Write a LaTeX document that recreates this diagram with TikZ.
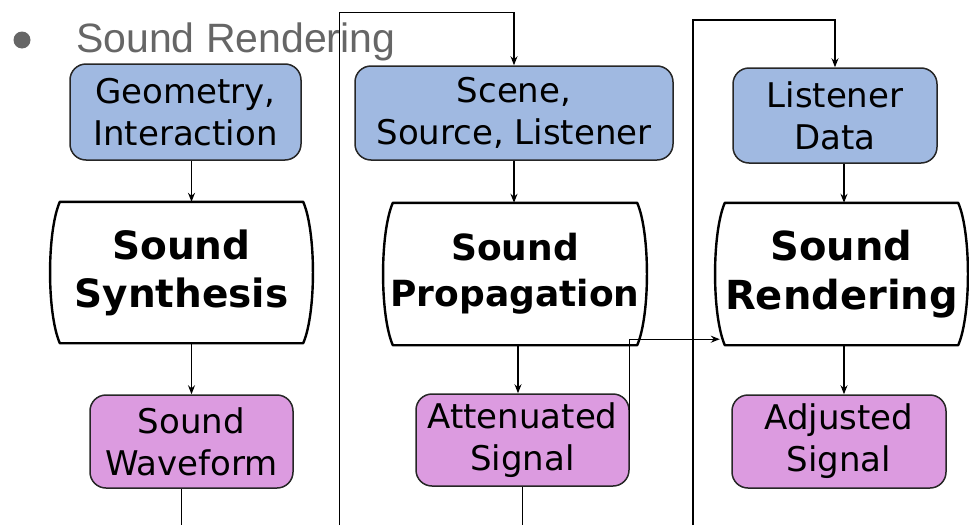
\documentclass[tikz,border=0pt]{standalone}
\usepackage{fontspec}
\setmainfont{DejaVu Sans}
\newfontfamily\titlefont{Liberation Sans}
\usetikzlibrary{arrows.meta,calc}
\definecolor{boxblue}{RGB}{160,185,225}
\definecolor{boxpurple}{RGB}{220,155,224}
\definecolor{titlegray}{RGB}{102,102,102}
\newcommand\procshape[1]{%
  \draw[procline] ($(#1.north west)+(10,0)$) -- ($(#1.north east)+(-10,0)$)
    .. controls ($(#1.north east)+(3,30)$) and ($(#1.south east)+(3,-30)$) .. ($(#1.south east)+(-10,0)$)
    -- ($(#1.south west)+(10,0)$)
    .. controls ($(#1.south west)+(-3,-30)$) and ($(#1.north west)+(-3,30)$) .. cycle;}
\begin{document}
\begin{tikzpicture}[x=1pt,y=-1pt,
  conn/.style={line width=1.3pt,draw=black},
  arr/.style={conn,-{Stealth[length=9pt,width=7pt,inset=3pt]}},
  databox/.style={draw=black!85,line width=1.5pt,rounded corners=16pt,align=center,inner sep=0pt,font=\fontsize{34}{42}\selectfont},
  inbox/.style={databox,fill=boxblue},
  outbox/.style={databox,fill=boxpurple},
  procbox/.style={align=center,inner sep=0pt},
  procline/.style={line width=2.4pt,draw=black,line join=round}
]
\useasboundingbox (0,0) rectangle (969,525);

% title
\node[circle,fill=titlegray,minimum size=17pt,inner sep=0pt] (bullet) at (22,40) {};
\node[anchor=base west,inner sep=0pt,text=titlegray,font=\titlefont\fontsize{41}{48}\selectfont] (title) at (76,52) {Sound Rendering};

% input boxes
\node[inbox,minimum width=231pt,minimum height=96pt] (geo) at (185.5,112) {Geometry,\\Interaction};
\node[inbox,minimum width=318pt,minimum height=94pt] (scene) at (514,113) {Scene,\\Source, Listener};
\node[inbox,minimum width=204pt,minimum height=95pt] (lis) at (835,115.5) {Listener\\Data};

% process boxes
\node[procbox,minimum width=263pt,minimum height=141pt,font=\bfseries\fontsize{39}{48}\selectfont] (syn) at (181.5,272.5) {Sound\\Synthesis};
\node[procbox,minimum width=264pt,minimum height=142pt,font=\bfseries\fontsize{36}{46}\selectfont] (prop) at (515,274) {Sound\\Propagation};
\node[procbox,minimum width=253pt,minimum height=142pt,font=\bfseries\fontsize{40}{49}\selectfont] (ren) at (841.5,274) {Sound\\Rendering};
\procshape{syn}
\procshape{prop}
\procshape{ren}

% output boxes
\node[outbox,minimum width=203pt,minimum height=93pt] (wave) at (191.5,441.5) {Sound\\Waveform};
\node[outbox,minimum width=213pt,minimum height=92pt] (att) at (522.5,440) {Attenuated\\Signal};
\node[outbox,minimum width=214pt,minimum height=93pt] (adj) at (839,441.5) {Adjusted\\Signal};

% connectors
\draw[arr] (geo.south -| wave.north) -- (syn.north -| wave.north);
\draw[arr] (syn.south -| wave.north) -- (wave.north);
\coordinate (w0) at (181.5,525);
\draw[conn] (wave.south -| w0) -- (w0);

\coordinate (b1) at (339.5,525);
\coordinate (t1) at (339.5,12.5);
\draw[arr] (b1) -- (t1) -| (scene.north);
\draw[arr] (scene.south) -- (scene.south |- prop.north);
\coordinate (px) at ([xshift=3pt]prop.south);
\draw[arr] (px) -- (px |- att.north);
\coordinate (a0) at (522.5,525);
\draw[conn] (att.south) -- (a0);
\coordinate (rin) at ($(ren.south west)+(5,-6)$);
\draw[arr] (att.east) |- (rin);

\coordinate (b2) at (693,525);
\coordinate (t2) at (693,20);
\draw[arr] (b2) -- (t2) -| (lis.north);
\coordinate (lx) at ([xshift=9pt]lis.south);
\draw[arr] (lx) -- (lx |- ren.north);
\coordinate (rx) at ([xshift=2.5pt]ren.south);
\draw[arr] (rx) -- (rx |- adj.north);
\end{tikzpicture}
\end{document}
